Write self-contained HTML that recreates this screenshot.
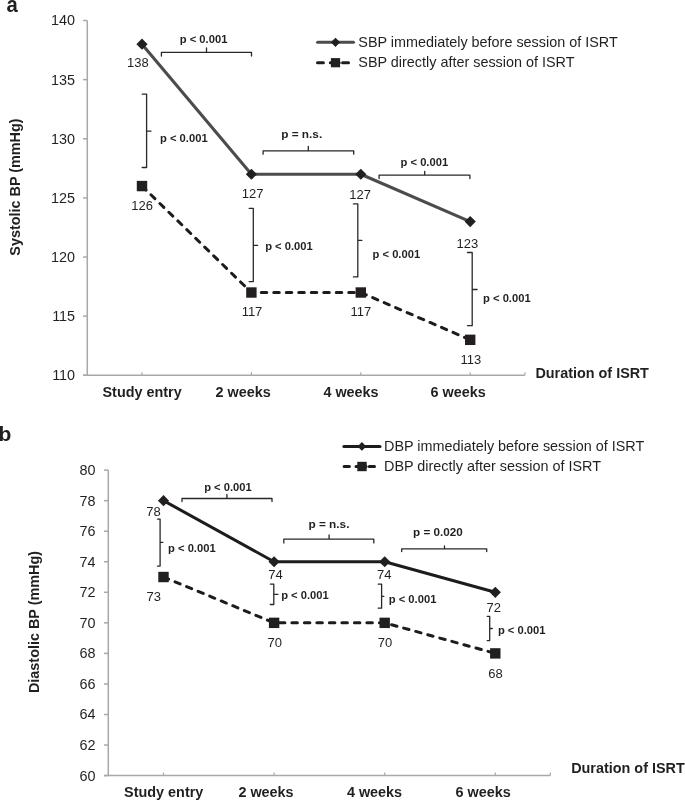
<!DOCTYPE html>
<html><head><meta charset="utf-8"><style>
html,body{margin:0;padding:0;background:#fff;}
svg{display:block;will-change:transform;}
text{font-family:"Liberation Sans",sans-serif;}
</style></head><body>
<svg width="685" height="801" viewBox="0 0 685 801">
<rect width="685" height="801" fill="#fff"/>
<text transform="translate(6.6 11.8) scale(0.9 1)" font-size="22.5" font-weight="bold" fill="#231f20">a</text>
<text transform="translate(19.9 187.05) rotate(-90)" font-size="14.4" font-weight="bold" text-anchor="middle" fill="#231f20">Systolic BP (mmHg)</text>
<line x1="87.3" y1="20.5" x2="87.3" y2="375.3" stroke="#a7a8ab" stroke-width="1.5" />
<line x1="83.0" y1="375.3" x2="87.3" y2="375.3" stroke="#a7a8ab" stroke-width="1.5" />
<text x="75.1" y="380.2" font-size="14.4" font-weight="normal" text-anchor="end" fill="#231f20" >110</text>
<line x1="83.0" y1="316.1666666666667" x2="87.3" y2="316.1666666666667" stroke="#a7a8ab" stroke-width="1.5" />
<text x="75.1" y="321.07" font-size="14.4" font-weight="normal" text-anchor="end" fill="#231f20" >115</text>
<line x1="83.0" y1="257.03333333333336" x2="87.3" y2="257.03333333333336" stroke="#a7a8ab" stroke-width="1.5" />
<text x="75.1" y="261.93" font-size="14.4" font-weight="normal" text-anchor="end" fill="#231f20" >120</text>
<line x1="83.0" y1="197.9" x2="87.3" y2="197.9" stroke="#a7a8ab" stroke-width="1.5" />
<text x="75.1" y="202.8" font-size="14.4" font-weight="normal" text-anchor="end" fill="#231f20" >125</text>
<line x1="83.0" y1="138.76666666666668" x2="87.3" y2="138.76666666666668" stroke="#a7a8ab" stroke-width="1.5" />
<text x="75.1" y="143.67" font-size="14.4" font-weight="normal" text-anchor="end" fill="#231f20" >130</text>
<line x1="83.0" y1="79.63333333333333" x2="87.3" y2="79.63333333333333" stroke="#a7a8ab" stroke-width="1.5" />
<text x="75.1" y="84.53" font-size="14.4" font-weight="normal" text-anchor="end" fill="#231f20" >135</text>
<line x1="83.0" y1="20.5" x2="87.3" y2="20.5" stroke="#a7a8ab" stroke-width="1.5" />
<text x="75.1" y="25.4" font-size="14.4" font-weight="normal" text-anchor="end" fill="#231f20" >140</text>
<line x1="83.0" y1="375.3" x2="524.9" y2="375.3" stroke="#a7a8ab" stroke-width="1.5" />
<line x1="142.0" y1="372.3" x2="142.0" y2="375.3" stroke="#a7a8ab" stroke-width="1.2" />
<line x1="251.4" y1="372.3" x2="251.4" y2="375.3" stroke="#a7a8ab" stroke-width="1.2" />
<line x1="360.8" y1="372.3" x2="360.8" y2="375.3" stroke="#a7a8ab" stroke-width="1.2" />
<line x1="470.2" y1="372.3" x2="470.2" y2="375.3" stroke="#a7a8ab" stroke-width="1.2" />
<line x1="524.9" y1="372.3" x2="524.9" y2="375.3" stroke="#a7a8ab" stroke-width="1.2" />
<text x="142.1" y="397.3" font-size="14.4" font-weight="bold" text-anchor="middle" fill="#231f20" >Study entry</text>
<text x="243.2" y="397.3" font-size="14.4" font-weight="bold" text-anchor="middle" fill="#231f20" >2 weeks</text>
<text x="351.0" y="397.3" font-size="14.4" font-weight="bold" text-anchor="middle" fill="#231f20" >4 weeks</text>
<text x="458.1" y="397.3" font-size="14.4" font-weight="bold" text-anchor="middle" fill="#231f20" >6 weeks</text>
<text x="535.4" y="378.1" font-size="14.4" font-weight="bold" text-anchor="start" fill="#231f20" >Duration of ISRT</text>
<path d="M161.4 56.0L161.4 52.4L251.5 52.4L251.5 56.0M206.5 52.4L206.5 48.0" fill="none" stroke="#2a2728" stroke-width="1.3" stroke-linejoin="round" stroke-linecap="round"/>
<path d="M142.2 94.1L146.6 94.1L146.6 167.5L142.2 167.5M146.6 131.1L151.0 131.1" fill="none" stroke="#2a2728" stroke-width="1.3" stroke-linejoin="round" stroke-linecap="round"/>
<path d="M263.1 154.2L263.1 150.8L353.7 150.8L353.7 154.2M308.3 150.8L308.3 146.3" fill="none" stroke="#2a2728" stroke-width="1.3" stroke-linejoin="round" stroke-linecap="round"/>
<path d="M249.2 208.4L253.3 208.4L253.3 281.6L249.2 281.6M253.3 245.4L257.6 245.4" fill="none" stroke="#2a2728" stroke-width="1.3" stroke-linejoin="round" stroke-linecap="round"/>
<path d="M379.1 178.6L379.1 175.1L469.9 175.1L469.9 178.6M424.7 175.1L424.7 171.3" fill="none" stroke="#2a2728" stroke-width="1.3" stroke-linejoin="round" stroke-linecap="round"/>
<path d="M353.4 203.9L357.8 203.9L357.8 276.9L353.4 276.9M357.8 240.4L361.9 240.4" fill="none" stroke="#2a2728" stroke-width="1.3" stroke-linejoin="round" stroke-linecap="round"/>
<path d="M467.5 252.5L472.2 252.5L472.2 325.7L467.5 325.7M472.2 289.5L477.1 289.5" fill="none" stroke="#2a2728" stroke-width="1.3" stroke-linejoin="round" stroke-linecap="round"/>
<polyline points="142.0,44.14 251.4,174.24 360.8,174.24 470.2,221.55" fill="none" stroke="#4b4c4e" stroke-width="3.1" stroke-linejoin="round" />
<polyline points="142.0,186.07 251.4,292.51 360.8,292.51 470.2,339.82" fill="none" stroke="#1e1b1c" stroke-width="3" stroke-linejoin="round" stroke-dasharray="5.5 7" stroke-linecap="round"/>
<path d="M142.0 38.54L147.6 44.14L142.0 49.74L136.4 44.14Z" fill="#231f20"/>
<path d="M251.4 168.64000000000001L257.0 174.24L251.4 179.84L245.8 174.24Z" fill="#231f20"/>
<path d="M360.8 168.64000000000001L366.40000000000003 174.24L360.8 179.84L355.2 174.24Z" fill="#231f20"/>
<path d="M470.2 215.95000000000002L475.8 221.55L470.2 227.15L464.59999999999997 221.55Z" fill="#231f20"/>
<rect x="136.8" y="180.87" width="10.4" height="10.4" fill="#231f20"/>
<rect x="246.20000000000002" y="287.31" width="10.4" height="10.4" fill="#231f20"/>
<rect x="355.6" y="287.31" width="10.4" height="10.4" fill="#231f20"/>
<rect x="465.0" y="334.62" width="10.4" height="10.4" fill="#231f20"/>
<text transform="translate(203.55 42.5) scale(0.95 1)" font-size="11.8" font-weight="bold" text-anchor="middle" fill="#231f20">p &lt; 0.001</text>
<text transform="translate(183.8 142.3) scale(0.95 1)" font-size="11.8" font-weight="bold" text-anchor="middle" fill="#231f20">p &lt; 0.001</text>
<text transform="translate(301.7 137.5) scale(1.0 1)" font-size="11.8" font-weight="bold" text-anchor="middle" fill="#231f20">p = n.s.</text>
<text transform="translate(288.95 249.5) scale(0.95 1)" font-size="11.8" font-weight="bold" text-anchor="middle" fill="#231f20">p &lt; 0.001</text>
<text transform="translate(424.35 166.4) scale(0.95 1)" font-size="11.8" font-weight="bold" text-anchor="middle" fill="#231f20">p &lt; 0.001</text>
<text transform="translate(396.35 257.9) scale(0.95 1)" font-size="11.8" font-weight="bold" text-anchor="middle" fill="#231f20">p &lt; 0.001</text>
<text transform="translate(506.85 301.8) scale(0.95 1)" font-size="11.8" font-weight="bold" text-anchor="middle" fill="#231f20">p &lt; 0.001</text>
<text x="137.8" y="67.3" font-size="13" font-weight="normal" text-anchor="middle" fill="#231f20" >138</text>
<text x="252.65" y="197.8" font-size="13" font-weight="normal" text-anchor="middle" fill="#231f20" >127</text>
<text x="360.05" y="198.9" font-size="13" font-weight="normal" text-anchor="middle" fill="#231f20" >127</text>
<text x="467.35" y="248.1" font-size="13" font-weight="normal" text-anchor="middle" fill="#231f20" >123</text>
<text x="142.2" y="209.7" font-size="13" font-weight="normal" text-anchor="middle" fill="#231f20" >126</text>
<text x="252.0" y="316.1" font-size="13" font-weight="normal" text-anchor="middle" fill="#231f20" >117</text>
<text x="360.9" y="316.1" font-size="13" font-weight="normal" text-anchor="middle" fill="#231f20" >117</text>
<text x="470.8" y="363.6" font-size="13" font-weight="normal" text-anchor="middle" fill="#231f20" >113</text>
<line x1="317.6" y1="42.3" x2="353.5" y2="42.3" stroke="#4b4c4e" stroke-width="3" stroke-linecap="round"/>
<path d="M335.5 37.699999999999996L340.1 42.3L335.5 46.9L330.9 42.3Z" fill="#231f20"/>
<text x="358.3" y="46.9" font-size="14.4" font-weight="normal" text-anchor="start" fill="#231f20" >SBP immediately before session of ISRT</text>
<path d="M317.5 62.7H323.4M330.3 62.7H339.2M342.6 62.7H348.5" stroke="#1e1b1c" stroke-width="3" stroke-linecap="round"/>
<rect x="330.9" y="58.1" width="9.2" height="9.2" fill="#231f20"/>
<text x="358.3" y="66.8" font-size="14.4" font-weight="normal" text-anchor="start" fill="#231f20" >SBP directly after session of ISRT</text>
<text x="-1.4" y="440.5" font-size="21" font-weight="bold" text-anchor="start" fill="#231f20" >b</text>
<text transform="translate(39.2 622) rotate(-90)" font-size="14.4" font-weight="bold" text-anchor="middle" fill="#231f20">Diastolic BP (mmHg)</text>
<line x1="108.3" y1="470.1" x2="108.3" y2="775.6" stroke="#a7a8ab" stroke-width="1.5" />
<line x1="104.0" y1="775.6" x2="108.3" y2="775.6" stroke="#a7a8ab" stroke-width="1.5" />
<text x="95.4" y="780.5" font-size="14.4" font-weight="normal" text-anchor="end" fill="#231f20" >60</text>
<line x1="104.0" y1="745.0500000000001" x2="108.3" y2="745.0500000000001" stroke="#a7a8ab" stroke-width="1.5" />
<text x="95.4" y="749.95" font-size="14.4" font-weight="normal" text-anchor="end" fill="#231f20" >62</text>
<line x1="104.0" y1="714.5" x2="108.3" y2="714.5" stroke="#a7a8ab" stroke-width="1.5" />
<text x="95.4" y="719.4" font-size="14.4" font-weight="normal" text-anchor="end" fill="#231f20" >64</text>
<line x1="104.0" y1="683.95" x2="108.3" y2="683.95" stroke="#a7a8ab" stroke-width="1.5" />
<text x="95.4" y="688.85" font-size="14.4" font-weight="normal" text-anchor="end" fill="#231f20" >66</text>
<line x1="104.0" y1="653.4" x2="108.3" y2="653.4" stroke="#a7a8ab" stroke-width="1.5" />
<text x="95.4" y="658.3" font-size="14.4" font-weight="normal" text-anchor="end" fill="#231f20" >68</text>
<line x1="104.0" y1="622.85" x2="108.3" y2="622.85" stroke="#a7a8ab" stroke-width="1.5" />
<text x="95.4" y="627.75" font-size="14.4" font-weight="normal" text-anchor="end" fill="#231f20" >70</text>
<line x1="104.0" y1="592.3" x2="108.3" y2="592.3" stroke="#a7a8ab" stroke-width="1.5" />
<text x="95.4" y="597.2" font-size="14.4" font-weight="normal" text-anchor="end" fill="#231f20" >72</text>
<line x1="104.0" y1="561.75" x2="108.3" y2="561.75" stroke="#a7a8ab" stroke-width="1.5" />
<text x="95.4" y="566.65" font-size="14.4" font-weight="normal" text-anchor="end" fill="#231f20" >74</text>
<line x1="104.0" y1="531.2" x2="108.3" y2="531.2" stroke="#a7a8ab" stroke-width="1.5" />
<text x="95.4" y="536.1" font-size="14.4" font-weight="normal" text-anchor="end" fill="#231f20" >76</text>
<line x1="104.0" y1="500.65000000000003" x2="108.3" y2="500.65000000000003" stroke="#a7a8ab" stroke-width="1.5" />
<text x="95.4" y="505.55" font-size="14.4" font-weight="normal" text-anchor="end" fill="#231f20" >78</text>
<line x1="104.0" y1="470.1" x2="108.3" y2="470.1" stroke="#a7a8ab" stroke-width="1.5" />
<text x="95.4" y="475.0" font-size="14.4" font-weight="normal" text-anchor="end" fill="#231f20" >80</text>
<line x1="104.0" y1="775.6" x2="550.4" y2="775.6" stroke="#a7a8ab" stroke-width="1.5" />
<line x1="163.5" y1="772.6" x2="163.5" y2="775.6" stroke="#a7a8ab" stroke-width="1.2" />
<line x1="274.1" y1="772.6" x2="274.1" y2="775.6" stroke="#a7a8ab" stroke-width="1.2" />
<line x1="384.7" y1="772.6" x2="384.7" y2="775.6" stroke="#a7a8ab" stroke-width="1.2" />
<line x1="495.3" y1="772.6" x2="495.3" y2="775.6" stroke="#a7a8ab" stroke-width="1.2" />
<line x1="550.4" y1="772.6" x2="550.4" y2="775.6" stroke="#a7a8ab" stroke-width="1.2" />
<text x="163.7" y="797.3" font-size="14.4" font-weight="bold" text-anchor="middle" fill="#231f20" >Study entry</text>
<text x="266.0" y="797.3" font-size="14.4" font-weight="bold" text-anchor="middle" fill="#231f20" >2 weeks</text>
<text x="374.5" y="797.3" font-size="14.4" font-weight="bold" text-anchor="middle" fill="#231f20" >4 weeks</text>
<text x="483.1" y="797.3" font-size="14.4" font-weight="bold" text-anchor="middle" fill="#231f20" >6 weeks</text>
<text x="571.2" y="772.9" font-size="14.4" font-weight="bold" text-anchor="start" fill="#231f20" >Duration of ISRT</text>
<path d="M182.0 501.5L182.0 498.5L272.0 498.5L272.0 501.5M226.9 498.5L226.9 494.5" fill="none" stroke="#2a2728" stroke-width="1.3" stroke-linejoin="round" stroke-linecap="round"/>
<path d="M157.5 519.1L160.1 519.1L160.1 566.1L157.5 566.1M160.1 542.3L162.9 542.3" fill="none" stroke="#2a2728" stroke-width="1.3" stroke-linejoin="round" stroke-linecap="round"/>
<path d="M283.8 542.9L283.8 539.2L373.8 539.2L373.8 542.9M329.1 539.2L329.1 534.9" fill="none" stroke="#2a2728" stroke-width="1.3" stroke-linejoin="round" stroke-linecap="round"/>
<path d="M270.3 584.1L273.8 584.1L273.8 604.5L270.3 604.5M273.8 594.3L278.0 594.3" fill="none" stroke="#2a2728" stroke-width="1.3" stroke-linejoin="round" stroke-linecap="round"/>
<path d="M401.7 551.5L401.7 548.8L486.7 548.8L486.7 551.5M444.5 548.8L444.5 545.9" fill="none" stroke="#2a2728" stroke-width="1.3" stroke-linejoin="round" stroke-linecap="round"/>
<path d="M378.2 584.2L381.6 584.2L381.6 608.2L378.2 608.2M381.6 596.4L383.8 596.4" fill="none" stroke="#2a2728" stroke-width="1.3" stroke-linejoin="round" stroke-linecap="round"/>
<path d="M487.2 616.3L489.7 616.3L489.7 640.6L487.2 640.6M489.7 628.5L492.3 628.5" fill="none" stroke="#2a2728" stroke-width="1.3" stroke-linejoin="round" stroke-linecap="round"/>
<polyline points="163.5,500.65 274.1,561.75 384.7,561.75 495.3,592.3" fill="none" stroke="#1e1b1c" stroke-width="3" stroke-linejoin="round" />
<polyline points="163.5,577.02 274.1,622.85 384.7,622.85 495.3,653.4" fill="none" stroke="#1e1b1c" stroke-width="3" stroke-linejoin="round" stroke-dasharray="5.5 7" stroke-linecap="round"/>
<path d="M163.5 495.04999999999995L169.1 500.65L163.5 506.25L157.9 500.65Z" fill="#231f20"/>
<path d="M274.1 556.15L279.70000000000005 561.75L274.1 567.35L268.5 561.75Z" fill="#231f20"/>
<path d="M384.7 556.15L390.3 561.75L384.7 567.35L379.09999999999997 561.75Z" fill="#231f20"/>
<path d="M495.3 586.6999999999999L500.90000000000003 592.3L495.3 597.9L489.7 592.3Z" fill="#231f20"/>
<rect x="158.3" y="571.8199999999999" width="10.4" height="10.4" fill="#231f20"/>
<rect x="268.90000000000003" y="617.65" width="10.4" height="10.4" fill="#231f20"/>
<rect x="379.5" y="617.65" width="10.4" height="10.4" fill="#231f20"/>
<rect x="490.1" y="648.1999999999999" width="10.4" height="10.4" fill="#231f20"/>
<text transform="translate(227.95 491.0) scale(0.95 1)" font-size="11.8" font-weight="bold" text-anchor="middle" fill="#231f20">p &lt; 0.001</text>
<text transform="translate(191.85 551.5) scale(0.95 1)" font-size="11.8" font-weight="bold" text-anchor="middle" fill="#231f20">p &lt; 0.001</text>
<text transform="translate(328.95 528.0) scale(1.0 1)" font-size="11.8" font-weight="bold" text-anchor="middle" fill="#231f20">p = n.s.</text>
<text transform="translate(304.95 598.5) scale(0.95 1)" font-size="11.8" font-weight="bold" text-anchor="middle" fill="#231f20">p &lt; 0.001</text>
<text transform="translate(437.9 535.9) scale(0.99 1)" font-size="11.8" font-weight="bold" text-anchor="middle" fill="#231f20">p = 0.020</text>
<text transform="translate(412.55 602.8) scale(0.95 1)" font-size="11.8" font-weight="bold" text-anchor="middle" fill="#231f20">p &lt; 0.001</text>
<text transform="translate(521.7 633.6) scale(0.95 1)" font-size="11.8" font-weight="bold" text-anchor="middle" fill="#231f20">p &lt; 0.001</text>
<text x="153.4" y="515.7" font-size="13" font-weight="normal" text-anchor="middle" fill="#231f20" >78</text>
<text x="275.5" y="579.4" font-size="13" font-weight="normal" text-anchor="middle" fill="#231f20" >74</text>
<text x="384.3" y="579.4" font-size="13" font-weight="normal" text-anchor="middle" fill="#231f20" >74</text>
<text x="493.8" y="612.0" font-size="13" font-weight="normal" text-anchor="middle" fill="#231f20" >72</text>
<text x="153.8" y="601.4" font-size="13" font-weight="normal" text-anchor="middle" fill="#231f20" >73</text>
<text x="274.7" y="646.9" font-size="13" font-weight="normal" text-anchor="middle" fill="#231f20" >70</text>
<text x="385.0" y="646.9" font-size="13" font-weight="normal" text-anchor="middle" fill="#231f20" >70</text>
<text x="495.5" y="677.8" font-size="13" font-weight="normal" text-anchor="middle" fill="#231f20" >68</text>
<line x1="343.9" y1="446.4" x2="380.0" y2="446.4" stroke="#1e1b1c" stroke-width="3" stroke-linecap="round"/>
<path d="M361.9 442.0L366.29999999999995 446.4L361.9 450.79999999999995L357.5 446.4Z" fill="#231f20"/>
<text x="384.0" y="450.9" font-size="14.4" font-weight="normal" text-anchor="start" fill="#231f20" >DBP immediately before session of ISRT</text>
<path d="M344.1 466.5H349.4M356 466.5H366M369.2 466.5H374.5" stroke="#1e1b1c" stroke-width="3" stroke-linecap="round"/>
<rect x="357.3" y="461.8" width="9.4" height="9.4" fill="#231f20"/>
<text x="384.0" y="470.9" font-size="14.4" font-weight="normal" text-anchor="start" fill="#231f20" >DBP directly after session of ISRT</text>
</svg>
</body></html>
